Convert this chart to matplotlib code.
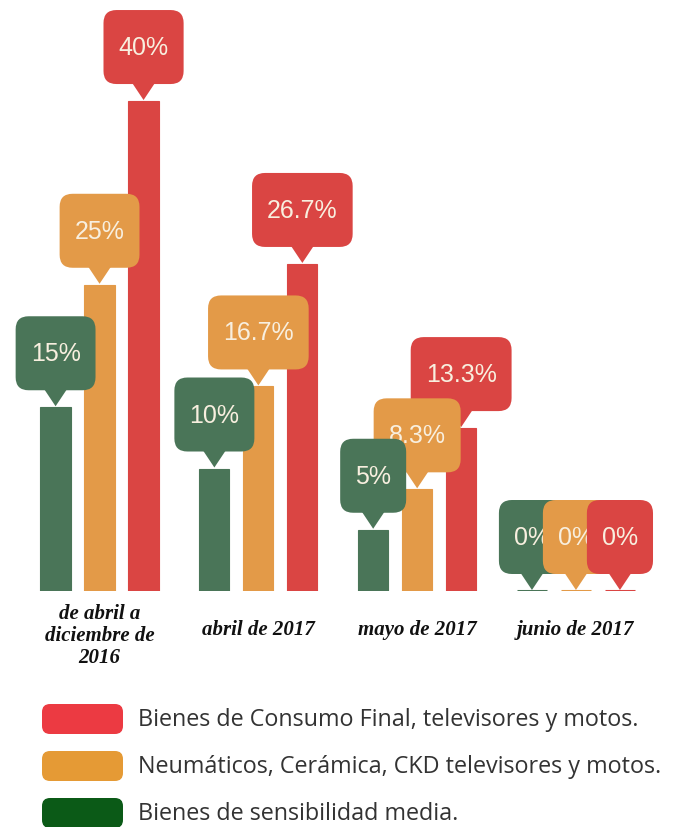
import numpy as np
import matplotlib
matplotlib.use("Agg")
import matplotlib.pyplot as plt
from matplotlib.patches import FancyBboxPatch, Polygon
import matplotlib.transforms as mtransforms

# datos
periodos = ["de abril a\ndiciembre de\n2016", "abril de 2017", "mayo de 2017", "junio de 2017"]
series = ["Bienes de sensibilidad media.",
          "Neumáticos, Cerámica, CKD televisores y motos.",
          "Bienes de Consumo Final, televisores y motos."]
sensibilidad_media = [15, 10, 5, 0]
neumaticos_ckd = [25, 16.7, 8.3, 0]
consumo_final = [40, 26.7, 13.3, 0]
valores = [sensibilidad_media, neumaticos_ckd, consumo_final]

colores_barra = ["#4A7558", "#E39A48", "#DA4543"]
colores_leyenda = ["#0B5A17", "#E59A35", "#EC3A42"]
color_texto = "#F8EFDF"

W, H = 676, 828
fig = plt.figure(figsize=(W / 100, H / 100), dpi=100)
fig.patch.set_facecolor("white")

# zona de barras (la base de las barras queda en y=592 px)
ax = fig.add_axes([0, (H - 592) / H, 1, 592 / H])
ax.set_xlim(-0.627, 3.63)
ax.set_ylim(0, 48.33)
ax.axis("off")

x = np.arange(len(periodos))
desplaz = [-0.277, 0, 0.277]
ancho = 0.19

for i, vals in enumerate(valores):
    # las barras de 0% se ven como una linea fina sobre la base
    grosor = [2.2 if v == 0 else 0.8 for v in vals]
    ax.bar(x + desplaz[i], vals, width=ancho, color=colores_barra[i],
           edgecolor=colores_barra[i], linewidth=grosor, zorder=2)

renderer = fig.canvas.get_renderer()


def globo(xc, v, texto, color, z):
    # globo con punta apuntando al tope de la barra, medidas en pixeles
    tr = mtransforms.IdentityTransform() + mtransforms.ScaledTranslation(xc, v, ax.transData)
    punta = 17
    alto = 74
    t = ax.text(0, punta + alto / 2, texto, transform=tr, ha="center", va="center",
                fontsize=18, family="Liberation Sans", color=color_texto, zorder=z + 0.002)
    ancho_t = t.get_window_extent(renderer).width
    w = ancho_t + 30
    caja = FancyBboxPatch((-w / 2, punta), w, alto,
                          boxstyle="round,pad=0,rounding_size=13",
                          transform=tr, fc=color, ec="none", zorder=z)
    tri = Polygon([(-12, punta + 2), (12, punta + 2), (0, 1)], closed=True,
                  transform=tr, fc=color, ec="none", zorder=z + 0.001)
    ax.add_patch(caja)
    ax.add_patch(tri)


for i, vals in enumerate(valores):
    for j, v in enumerate(vals):
        z = 10 - v * 0.1 + i * 0.01
        globo(x[j] + desplaz[i], v, f"{v:g}%", colores_barra[i], z)

# etiquetas de periodo
for j, p in enumerate(periodos):
    ax.annotate(p, xy=(x[j], 0), xytext=(0, -44 if "\n" in p else -38),
                textcoords="offset pixels",
                ha="center", va="center", fontsize=15, family="Liberation Serif",
                style="italic", weight="bold", color="#111111", linespacing=1.15,
                annotation_clip=False)

# leyenda dibujada a mano
ax_leg = fig.add_axes([0, 0, 1, (H - 592) / H])
ax_leg.set_xlim(0, W)
ax_leg.set_ylim(H - 592, 0)
ax_leg.axis("off")

filas_y = [128, 175, 222]
for k, idx in enumerate([2, 1, 0]):
    yc = filas_y[k]
    ax_leg.add_patch(FancyBboxPatch((42, yc - 15), 81, 30,
                                    boxstyle="round,pad=0,rounding_size=8",
                                    fc=colores_leyenda[idx], ec="none"))
    ax_leg.text(138, yc, series[idx], ha="left", va="center", fontsize=16.8,
                family="Open Sans", color="#333333")

fig.savefig("out.png", dpi=100)
